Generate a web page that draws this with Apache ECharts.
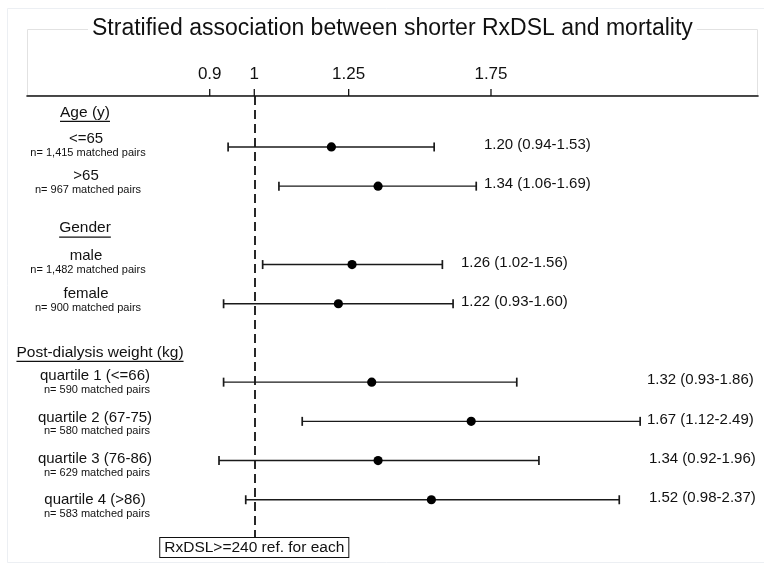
<!DOCTYPE html>
<html>
<head>
<meta charset="UTF-8">
<title>Stratified association between shorter RxDSL and mortality</title>
<script src="https://cdn.jsdelivr.net/npm/echarts@6/dist/echarts.min.js"></script>
<style>
html, body { margin:0; padding:0; background:#fff; }
#main { width:764px; height:566px; }
</style>
</head>
<body>
<div id="main"></div>
<script>
// values
var rowNames = ['<=65', '>65', 'male', 'female', 'quartile 1 (<=66)', 'quartile 2 (67-75)', 'quartile 3 (76-86)', 'quartile 4 (>86)'];
var pairsN = ['1,415', '967', '1,482', '900', '590', '580', '629', '583'];
var hrEst = [1.20, 1.34, 1.26, 1.22, 1.32, 1.67, 1.34, 1.52];
var hrLow = [0.94, 1.06, 1.02, 0.93, 0.93, 1.12, 0.92, 0.98];
var hrHigh = [1.53, 1.69, 1.56, 1.60, 1.86, 2.49, 1.96, 2.37];
var rowSlot = [1, 2, 4, 5, 7, 8, 9, 10];
var headers = ['Age (y)', 'Gender', 'Post-dialysis weight (kg)'];
var headerSlot = [0.12, 3.07, 6.24];
var tickValues = [0.9, 1, 1.25, 1.75];
var refHR = 1;

// layout only (pixels)
var estLeft = [484, 484, 461, 461, 647, 647, 649, 649];
var labelCenter = [86, 86, 86, 86, 95, 95, 95, 95];
var labelShift = [-1, -3, -2, -3, 1, 3, 5, 7];
var headerCenter = [85, 85, 100];

var FONT = '"Liberation Sans", Arial, sans-serif';
var ink = '#111';

var measureCtx = document.createElement('canvas').getContext('2d');
function textWidth(str, size) {
    measureCtx.font = size + 'px "Liberation Sans"';
    return measureCtx.measureText(str).width;
}

function txt(x, y, s, size, align) {
    return {
        type: 'text', x: x, y: y,
        style: {
            text: s, fill: ink, fontSize: size, fontFamily: FONT,
            align: align, textAlign: align,
            verticalAlign: 'middle', textVerticalAlign: 'middle'
        }
    };
}

function drawRow(params, api) {
    var i = params.dataIndex;
    var row = api.value(3);
    var pe = api.coord([api.value(0), row]);
    var xl = api.coord([api.value(1), row])[0];
    var xh = api.coord([api.value(2), row])[0];
    var y = pe[1];
    var st = {stroke: '#1a1a1a', lineWidth: 1.4};
    var label = hrEst[i].toFixed(2) + ' (' + hrLow[i].toFixed(2) + '-' + hrHigh[i].toFixed(2) + ')';
    return {
        type: 'group',
        children: [
            {type: 'line', shape: {x1: xl, y1: y, x2: xh, y2: y}, style: st},
            {type: 'line', shape: {x1: xl, y1: y - 4.5, x2: xl, y2: y + 4.5}, style: {stroke: '#1a1a1a', lineWidth: 1.7}},
            {type: 'line', shape: {x1: xh, y1: y - 4.5, x2: xh, y2: y + 4.5}, style: {stroke: '#1a1a1a', lineWidth: 1.7}},
            {type: 'circle', shape: {cx: pe[0], cy: y, r: 4.6}, style: {fill: '#000'}},
            txt(estLeft[i], y - 2, label, 15, 'left')
        ]
    };
}

function drawLabel(params, api) {
    var i = params.dataIndex;
    var y = api.coord([refHR, api.value(1)])[1] + labelShift[i];
    return {
        type: 'group',
        children: [
            txt(labelCenter[i], y - 7, rowNames[i], 15, 'center'),
            txt(labelCenter[i] + 2, y + 7, 'n= ' + pairsN[i] + ' matched pairs', 11, 'center')
        ]
    };
}

function drawHeader(params, api) {
    var i = params.dataIndex;
    var y = api.coord([refHR, api.value(1)])[1];
    var w = textWidth(headers[i], 15.5);
    var cx = headerCenter[i];
    return {
        type: 'group',
        children: [
            txt(cx, y, headers[i], 15.5, 'center'),
            {type: 'line', shape: {x1: cx - w / 2, y1: y + 9, x2: cx + w / 2, y2: y + 9}, style: {stroke: ink, lineWidth: 1.2}}
        ]
    };
}

function drawTick(params, api) {
    var x = api.coord([api.value(0), 0])[0];
    var top = params.coordSys.y;
    return {
        type: 'group',
        children: [
            {type: 'line', shape: {x1: x, y1: top - 7, x2: x, y2: top}, style: {stroke: ink, lineWidth: 1.3}},
            txt(x, top - 22, String(api.value(0)), 17, 'center')
        ]
    };
}

var forestData = [];
for (var i = 0; i < hrEst.length; i++) {
    forestData.push([hrEst[i], hrLow[i], hrHigh[i], rowSlot[i]]);
}
var labelData = rowSlot.map(function (s) { return [refHR, s]; });
var headerData = headerSlot.map(function (s) { return [refHR, s]; });
var tickData = tickValues.map(function (v) { return [v, 0]; });

var chart = echarts.init(document.getElementById('main'));
var option = {
    animation: false,
    backgroundColor: '#fff',
    textStyle: {fontFamily: FONT},
    title: {
        text: 'Stratified association between shorter RxDSL and mortality',
        left: 88,
        top: 17,
        padding: [0, 4],
        backgroundColor: '#fff',
        textStyle: {fontSize: 23, fontWeight: 'normal', color: ink, fontFamily: FONT}
    },
    graphic: [
        {type: 'rect', z: -10, shape: {x: 7.5, y: 8.5, width: 800, height: 554}, style: {fill: 'none', stroke: '#eceff3', lineWidth: 1}},
        {type: 'rect', z: 0, shape: {x: 27.5, y: 29.5, width: 730, height: 66}, style: {fill: 'none', stroke: '#e2e2e2', lineWidth: 1}}
    ],
    grid: {left: 27, right: 6, top: 96, bottom: 29},
    xAxis: {
        type: 'log',
        logBase: 10,
        position: 'top',
        min: 0.5843,
        max: 3.29,
        axisLine: {show: true, onZero: false, lineStyle: {color: ink, width: 1.6}},
        axisTick: {show: false},
        axisLabel: {show: false},
        splitLine: {show: false}
    },
    yAxis: {
        type: 'value',
        inverse: true,
        min: -0.3,
        max: 10.95,
        show: false,
        splitLine: {show: false}
    },
    series: [
        {
            name: 'reference',
            type: 'scatter',
            data: [[refHR, 0]],
            symbolSize: 0,
            silent: true,
            markLine: {
                silent: true,
                symbol: 'none',
                data: [{xAxis: refHR}],
                lineStyle: {color: ink, width: 1.8, type: [9, 5]},
                label: {
                    show: true,
                    position: 'end',
                    distance: 1,
                    formatter: 'RxDSL>=240 ref. for each',
                    color: ink,
                    fontSize: 15.5,
                    fontFamily: FONT,
                    lineHeight: 16,
                    backgroundColor: '#fff',
                    borderColor: ink,
                    borderWidth: 1,
                    padding: [2, 4, 1, 4]
                }
            }
        },
        {type: 'custom', name: 'ticks', renderItem: drawTick, data: tickData, silent: true},
        {type: 'custom', name: 'headers', renderItem: drawHeader, data: headerData, silent: true},
        {type: 'custom', name: 'labels', renderItem: drawLabel, data: labelData, silent: true},
        {type: 'custom', name: 'hazard ratio', renderItem: drawRow, data: forestData, silent: true, z: 5}
    ]
};
chart.setOption(option);
</script>
</body>
</html>
